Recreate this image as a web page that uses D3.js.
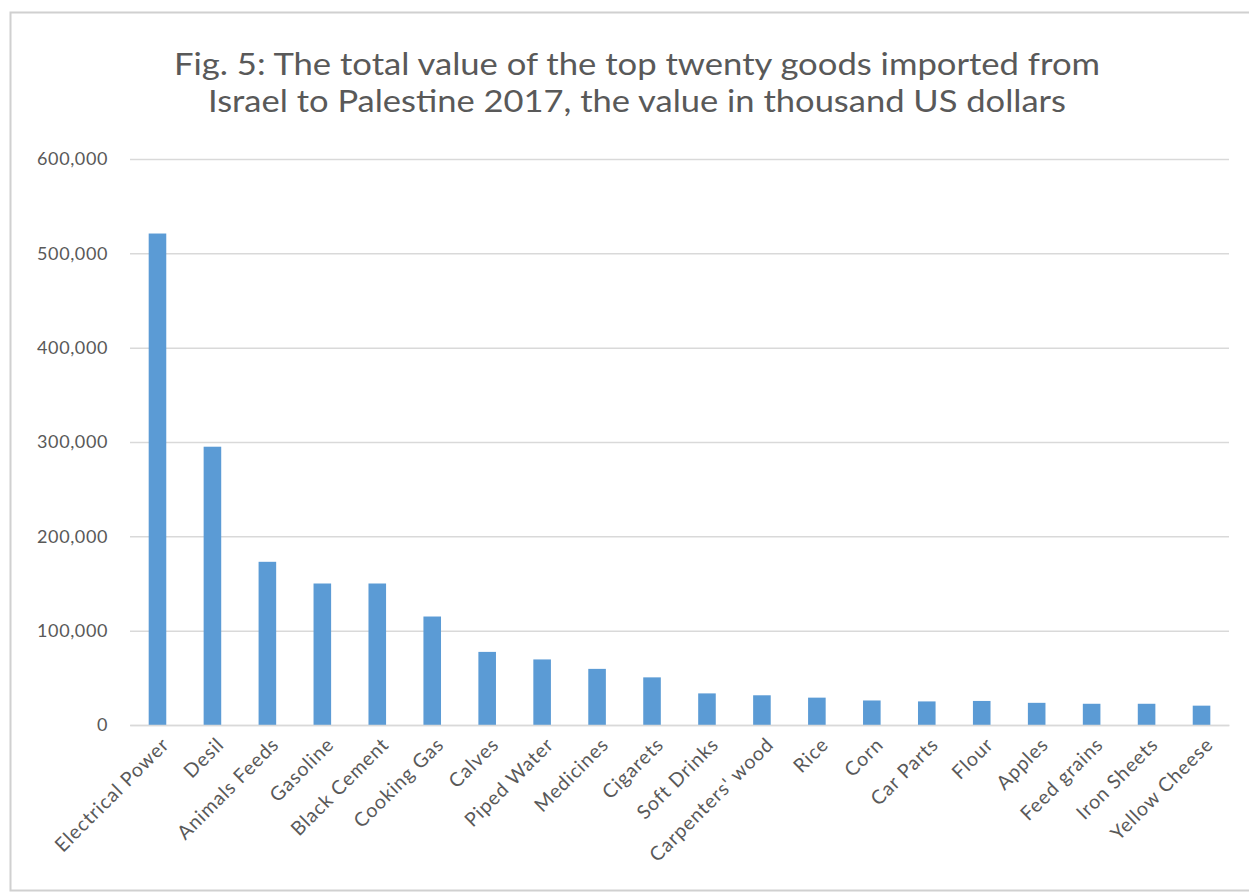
<!DOCTYPE html>
<html>
<head>
<meta charset="utf-8">
<script src="https://cdn.jsdelivr.net/npm/d3@7"></script>
<style>
  html, body { margin: 0; padding: 0; background: #ffffff; }
  svg { display: block; }
</style>
</head>
<body>
<svg id="chart" width="1249" height="895"></svg>
<script>
// Top twenty goods imported from Israel to Palestine, 2017 (thousand US dollars)
const categories = [
  "Electrical Power", "Desil", "Animals Feeds", "Gasoline", "Black Cement",
  "Cooking Gas", "Calves", "Piped Water", "Medicines", "Cigarets",
  "Soft Drinks", "Carpenters' wood", "Rice", "Corn", "Car Parts",
  "Flour", "Apples", "Feed grains", "Iron Sheets", "Yellow Cheese"
];
const values = [
  521000, 295000, 173000, 150000, 150000,
  115000, 77500, 69500, 59500, 50500,
  33500, 31500, 29000, 26000, 25000,
  25500, 23500, 22500, 22500, 20500
];
const yTicks = [0, 100000, 200000, 300000, 400000, 500000, 600000];
const titleLines = [
  "Fig. 5: The total value of the top twenty goods imported from",
  "Israel to Palestine 2017, the value in thousand US dollars"
];

const svg = d3.select("#chart");
const W = 1249;
const plot = { left: 130, right: 1229, top: 159, bottom: 725 };
const textColor = "#595959";
const gridColor = "#d9d9d9";
const barColor = "#5b9bd5";
const fontFamily = "Lato, 'Open Sans', sans-serif";

// Chart area frame
svg.append("rect")
  .attr("x", 10.5).attr("y", 12.5)
  .attr("width", W + 20).attr("height", 878)
  .attr("fill", "#ffffff")
  .attr("stroke", "#d0d0d0").attr("stroke-width", 2);

// Two-line title
const title = svg.append("g").attr("fill", textColor).attr("font-family", fontFamily)
  .attr("font-size", 30).attr("text-anchor", "middle");
title.append("text").attr("x", 637).attr("y", 75)
  .attr("textLength", 926).attr("lengthAdjust", "spacingAndGlyphs")
  .text(titleLines[0]);
title.append("text").attr("x", 637).attr("y", 112)
  .attr("textLength", 858).attr("lengthAdjust", "spacingAndGlyphs")
  .text(titleLines[1]);

// Scales
const x = d3.scaleBand().domain(categories)
  .range([plot.left, plot.right]).paddingInner(0.68).paddingOuter(0.34);
const y = d3.scaleLinear().domain([0, 600000]).range([plot.bottom, plot.top]);

// Gridlines and y-axis labels
const yAxis = d3.axisLeft(y)
  .tickValues(yTicks)
  .tickSize(-(plot.right - plot.left))
  .tickPadding(22)
  .tickFormat(d3.format(","));
const yg = svg.append("g").attr("transform", `translate(${plot.left},0)`).call(yAxis);
yg.select(".domain").remove();
yg.selectAll(".tick line").attr("stroke", gridColor).attr("stroke-width", 1.5);
yg.selectAll(".tick text")
  .attr("fill", textColor).attr("font-family", fontFamily).attr("font-size", 18)
  .attr("letter-spacing", 0.6);

// Bars
svg.append("g").selectAll("rect")
  .data(categories)
  .join("rect")
  .attr("x", d => x(d))
  .attr("width", x.bandwidth())
  .attr("y", (d, i) => y(values[i]))
  .attr("height", (d, i) => y(0) - y(values[i]))
  .attr("fill", barColor);

// Category axis with rotated labels
const xAxis = d3.axisBottom(x).tickSize(0).tickPadding(0);
const xg = svg.append("g").attr("transform", `translate(0,${plot.bottom})`).call(xAxis);
xg.select(".domain").attr("stroke", gridColor).attr("stroke-width", 1.5);
xg.selectAll(".tick text")
  .attr("fill", textColor).attr("font-family", fontFamily).attr("font-size", 19.5)
  .attr("letter-spacing", 0.9)
  .attr("text-anchor", "end")
  .attr("dy", "0.35em")
  .attr("transform", "translate(8,16) rotate(-45)");
</script>
</body>
</html>
